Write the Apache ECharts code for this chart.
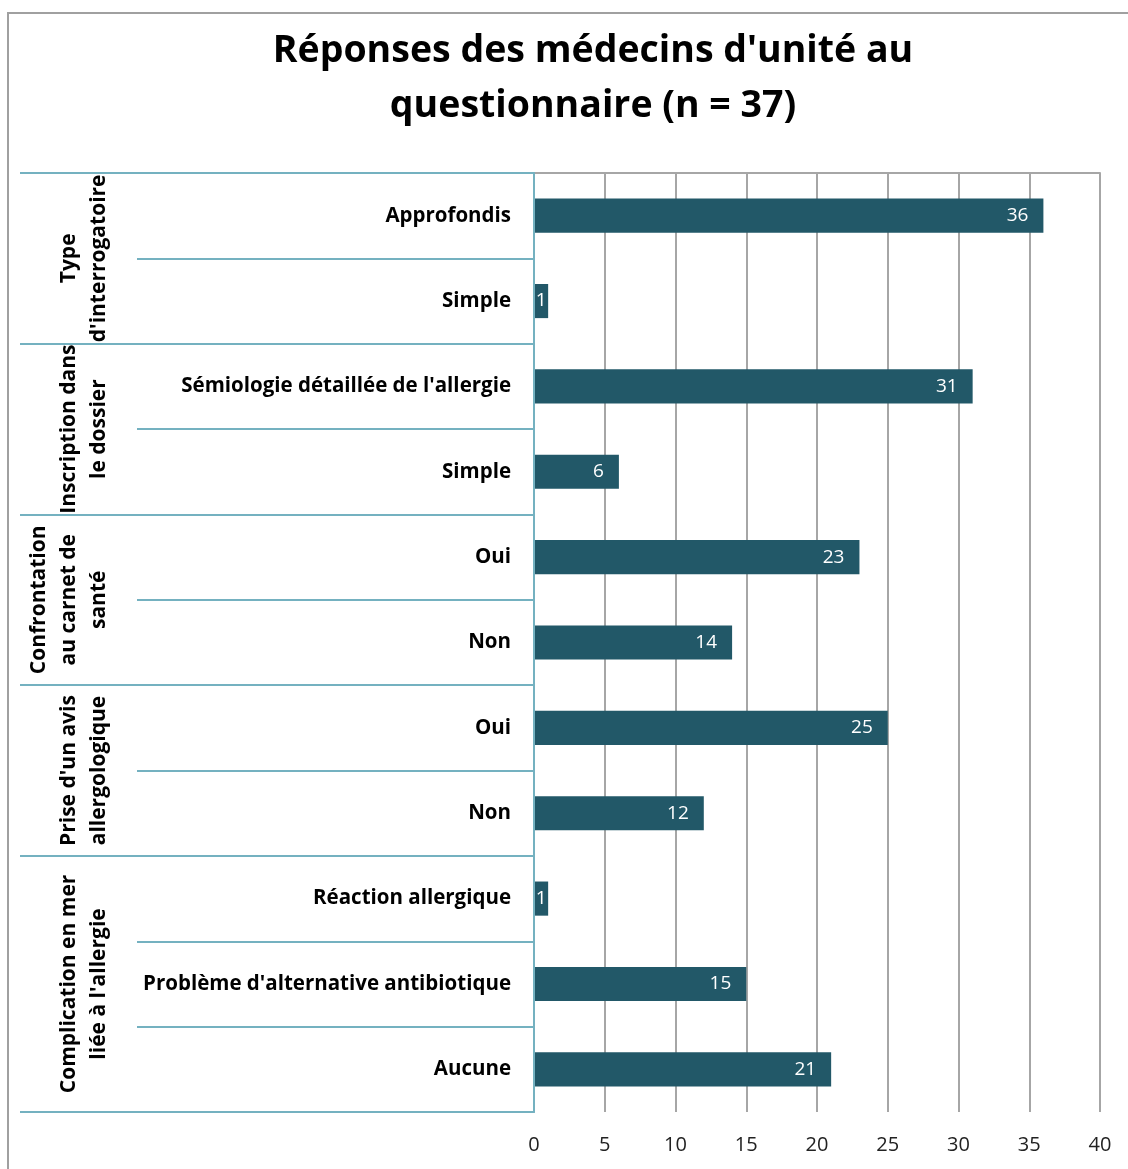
<!DOCTYPE html>
<html>
<head>
<meta charset="utf-8">
<script src="https://cdn.jsdelivr.net/npm/echarts@6/dist/echarts.min.js"></script>
<style>
html,body{margin:0;padding:0;background:#fff;}
#chart{width:1128px;height:1169px;}
</style>
</head>
<body>
<div id="chart"></div>
<script>
const titleText = "Réponses des médecins d'unité au\nquestionnaire (n = 37)";
const categories = ["Approfondis", "Simple", "Sémiologie détaillée de l'allergie", "Simple", "Oui", "Non", "Oui", "Non", "Réaction allergique", "Problème d'alternative antibiotique", "Aucune"];
const values = [36, 1, 31, 6, 23, 14, 25, 12, 1, 15, 21];
const groupNames = ["Type\nd'interrogatoire", "Inscription dans\nle dossier", "Confrontation\nau carnet de\nsanté", "Prise d'un avis\nallergologique", "Complication en mer\nliée à l'allergie"];
const groupSizes = [2, 2, 2, 2, 3];
const xTicks = [0, 5, 10, 15, 20, 25, 30, 35, 40];

// group boundaries and centers (in category units)
const groupBounds = [0];
const groupCenters = [];
groupSizes.forEach(function (s) {
  const start = groupBounds[groupBounds.length - 1];
  groupCenters.push(start + s / 2);
  groupBounds.push(start + s);
});

const FONT = '"Open Sans"';
const TEAL = '#74b1c0';
const GRID = '#a6a6a6';
const BAR = '#225868';

const chart = echarts.init(document.getElementById('chart'));
chart.setOption({
  backgroundColor: '#fff',
  animation: false,
  title: {
    text: titleText,
    left: 588,
    top: 19,
    textAlign: 'center',
    textStyle: { fontFamily: FONT, fontWeight: 'bold', fontSize: 37.5, lineHeight: 55, color: '#000' }
  },
  graphic: [{
    type: 'rect',
    shape: { x: 8, y: 13, width: 1140, height: 1180 },
    style: { fill: 'none', stroke: '#a0a0a0', lineWidth: 2 },
    silent: true
  }],
  grid: { left: 534, right: 28, top: 173, bottom: 57, containLabel: false },
  xAxis: {
    type: 'value',
    min: xTicks[0],
    max: xTicks[xTicks.length - 1],
    interval: xTicks[1] - xTicks[0],
    axisLine: { show: true, lineStyle: { color: GRID, width: 2 } },
    axisTick: { show: true, length: 8, lineStyle: { color: GRID, width: 2 } },
    splitLine: { show: true, lineStyle: { color: GRID, width: 2 } },
    axisLabel: { fontFamily: FONT, fontSize: 20, color: '#222', margin: 23 }
  },
  yAxis: [{
    type: 'category',
    inverse: true,
    data: categories,
    axisLine: { show: true, lineStyle: { color: TEAL, width: 2 } },
    axisTick: { show: true, length: 397, alignWithLabel: false, lineStyle: { color: TEAL, width: 2 } },
    axisLabel: { fontFamily: FONT, fontWeight: 'bold', fontSize: 20.5, color: '#000', margin: 23 },
    splitLine: { show: false },
    z: 3
  }, {
    type: 'value',
    inverse: true,
    min: 0,
    max: groupBounds[groupBounds.length - 1],
    position: 'left',
    offset: 0,
    axisLine: { show: true, lineStyle: { color: TEAL, width: 2 } },
    axisTick: { show: true, length: 514, customValues: groupBounds, lineStyle: { color: TEAL, width: 2 } },
    axisLabel: {
      show: true,
      customValues: groupCenters,
      rotate: 90,
      margin: 420,
      fontFamily: FONT, fontWeight: 'bold', fontSize: 21, lineHeight: 30, color: '#000',
      formatter: function (v) {
        const i = groupCenters.indexOf(v);
        return i >= 0 ? groupNames[i] : '';
      }
    },
    splitLine: { show: false },
    z: 3
  }],
  series: [{
    type: 'bar',
    xAxisIndex: 0,
    yAxisIndex: 0,
    barWidth: '40%',
    itemStyle: { color: BAR },
    data: values.map(function (v) {
      return v < 3 ? { value: v, label: { position: 'inside' } } : v;
    }),
    label: {
      show: true,
      position: 'insideRight',
      distance: 15,
      color: '#fff',
      fontFamily: FONT,
      fontSize: 19
    },
    z: 2
  }]
});
</script>
</body>
</html>
